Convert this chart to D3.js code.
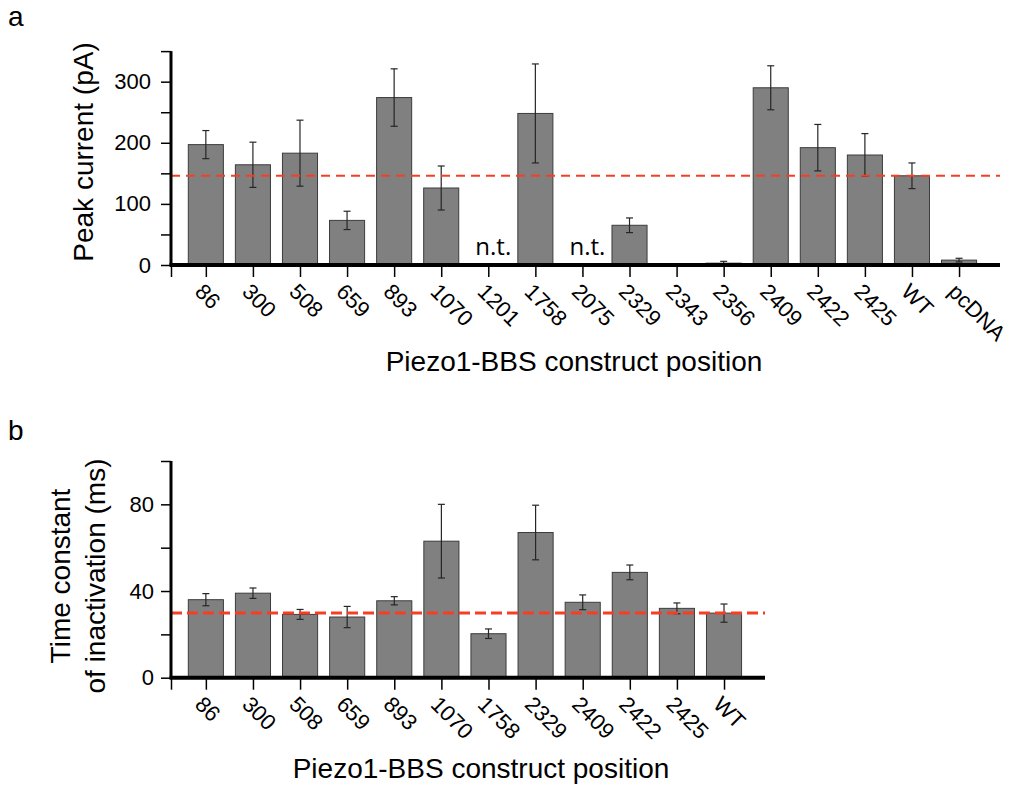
<!DOCTYPE html>
<html>
<head>
<meta charset="utf-8">
<script src="https://cdn.jsdelivr.net/npm/d3@7"></script>
<style>
  html, body { margin: 0; background: #fff; }
</style>
</head>
<body>
<div id="chart"></div>
<script>
// Panel a: peak current of each Piezo1-BBS construct (pA), mean +/- SEM
var peakLabels = ['86', '300', '508', '659', '893', '1070', '1201', '1758', '2075',
                  '2329', '2343', '2356', '2409', '2422', '2425', 'WT', 'pcDNA'];
var peakMean = [197, 164, 183, 73, 274, 126, null, 248, null,
                65, 1, 3, 290, 192, 180, 146, 8];
var peakErr  = [23, 37, 54, 15, 47, 36, null, 81, null,
                12, 0.5, 3, 36, 38, 35, 21, 3];
var peakTicks = [0, 50, 100, 150, 200, 250, 300, 350];
var peakTickLabels = [0, 100, 200, 300];
var peakRef = 146;   // WT level, dashed

// Panel b: inactivation time constant (ms)
var tauLabels = ['86', '300', '508', '659', '893', '1070', '1758',
                 '2329', '2409', '2422', '2425', 'WT'];
var tauMean = [36, 39, 29.2, 28, 35.5, 63, 20.3, 67, 34.8, 48.6, 32, 29.8];
var tauErr  = [2.8, 2.4, 2.3, 4.9, 1.9, 17, 2.2, 12.6, 3.4, 3.4, 2.5, 4.2];
var tauTicks = [0, 20, 40, 60, 80, 100];
var tauTickLabels = [0, 40, 80];
var tauRef = 29.8;

var W = 1024, H = 788;
var FONT = '"Liberation Sans", Arial, Helvetica, sans-serif';
var LETTER_FONT = '"Open Sans", "Noto Sans", sans-serif';
var RED = '#f63f22';

var svg = d3.select('#chart').append('svg')
    .attr('width', W).attr('height', H)
    .style('font-family', FONT);

function drawPanel(p) {
    var n = p.labels.length;
    var x = d3.scaleLinear().domain([-0.74, n - 0.13]).range([p.left, p.right]);
    var y = d3.scaleLinear().domain([0, p.yMax]).range([p.y0, p.y0 - p.yMax * p.pxPerUnit]);
    var bw = 0.745;
    var g = svg.append('g');

    // bars
    p.mean.forEach(function (m, i) {
        if (m == null) return;
        g.append('rect')
            .attr('x', x(i - bw / 2)).attr('width', x(bw) - x(0))
            .attr('y', y(m)).attr('height', y(0) - y(m))
            .attr('fill', '#808080').attr('stroke', '#3c3c3c').attr('stroke-width', 1);
    });

    // error bars
    p.mean.forEach(function (m, i) {
        if (m == null) return;
        var e = p.err[i], cx = x(i);
        var lo = Math.max(0, m - e), hi = m + e;
        g.append('line').attr('x1', cx).attr('x2', cx)
            .attr('y1', y(lo)).attr('y2', y(hi))
            .attr('stroke', '#262626').attr('stroke-width', 1.2);
        [lo, hi].forEach(function (v) {
            g.append('line').attr('x1', cx - 3.5).attr('x2', cx + 3.5)
                .attr('y1', y(v)).attr('y2', y(v))
                .attr('stroke', '#262626').attr('stroke-width', 1.2);
        });
    });

    // n.t. markers for constructs that were not tested
    p.mean.forEach(function (m, i) {
        if (m != null) return;
        g.append('text').attr('x', x(i) + 5).attr('y', p.y0 - 10)
            .attr('text-anchor', 'middle')
            .style('font-family', LETTER_FONT).style('font-size', '24px')
            .text('n.t.');
    });

    // dashed WT reference line
    g.append('line')
        .attr('x1', p.left).attr('x2', p.right)
        .attr('y1', y(p.ref)).attr('y2', y(p.ref))
        .attr('stroke', RED).attr('stroke-width', p.refWidth)
        .attr('stroke-dasharray', p.refDash);

    // y axis
    var ya = g.append('g').attr('transform', 'translate(' + p.left + ',0)')
        .call(d3.axisLeft(y).tickValues(p.ticks).tickSize(10).tickSizeOuter(0)
            .tickPadding(p.tickPad)
            .tickFormat(function (d) { return p.tickLabels.indexOf(d) >= 0 ? d : ''; }));
    ya.select('.domain').remove();
    ya.selectAll('.tick line').attr('stroke', '#000').attr('stroke-width', 1.5);
    ya.selectAll('.tick text').attr('fill', '#000')
        .style('font-family', FONT).style('font-size', '22px');
    g.append('line').attr('x1', p.left).attr('x2', p.left)
        .attr('y1', y(p.yMax)).attr('y2', p.y0)
        .attr('stroke', '#000').attr('stroke-width', 3);

    // x axis
    var idx = d3.range(n);
    var xa = g.append('g').attr('transform', 'translate(0,' + p.y0 + ')')
        .call(d3.axisBottom(x).tickValues([-0.74].concat(idx)).tickSize(12)
            .tickSizeOuter(0).tickFormat(''));
    xa.select('.domain').remove();
    xa.selectAll('.tick line').attr('stroke', '#000').attr('stroke-width', 1.5);
    g.append('line').attr('x1', p.left - 1.5).attr('x2', p.right)
        .attr('y1', p.y0).attr('y2', p.y0)
        .attr('stroke', '#000').attr('stroke-width', 4);

    g.selectAll('.xlab').data(p.labels).enter().append('text')
        .attr('class', 'xlab')
        .attr('transform', function (d, i) {
            return 'translate(' + (x(i) - 12) + ',' + (p.y0 + 28) + ') rotate(45)';
        })
        .style('font-size', '22px')
        .text(function (d) { return d; });

    // axis titles
    g.append('text').attr('x', p.titleX).attr('y', p.titleY)
        .attr('text-anchor', 'middle').style('font-size', '28px')
        .text('Piezo1-BBS construct position');

    p.yTitle.forEach(function (t, k) {
        g.append('text')
            .attr('transform', 'translate(' + p.yTitleX[k] + ',' + p.yTitleY + ') rotate(-90)')
            .attr('text-anchor', 'middle').style('font-size', '28px')
            .text(t);
    });

    // panel letter
    svg.append('text').attr('x', 8).attr('y', p.letterY)
        .style('font-family', FONT).style('font-size', '28px')
        .text(p.letter);
}

drawPanel({
    letter: 'a', letterY: 26,
    labels: peakLabels, mean: peakMean, err: peakErr,
    ticks: peakTicks, tickLabels: peakTickLabels, tickPad: 10,
    ref: peakRef, refWidth: 2, refDash: '9,6',
    left: 171, right: 1000, y0: 265, yMax: 350, pxPerUnit: 0.6111,
    titleX: 574, titleY: 371,
    yTitle: ['Peak current (pA)'], yTitleX: [93], yTitleY: 152
});

drawPanel({
    letter: 'b', letterY: 440,
    labels: tauLabels, mean: tauMean, err: tauErr,
    ticks: tauTicks, tickLabels: tauTickLabels, tickPad: 7,
    ref: tauRef, refWidth: 3, refDash: '11,5',
    left: 171, right: 765, y0: 677.7, yMax: 100, pxPerUnit: 2.167,
    titleX: 481, titleY: 778,
    yTitle: ['Time constant', 'of inactivation (ms)'], yTitleX: [70, 105], yTitleY: 576
});
</script>
</body>
</html>
